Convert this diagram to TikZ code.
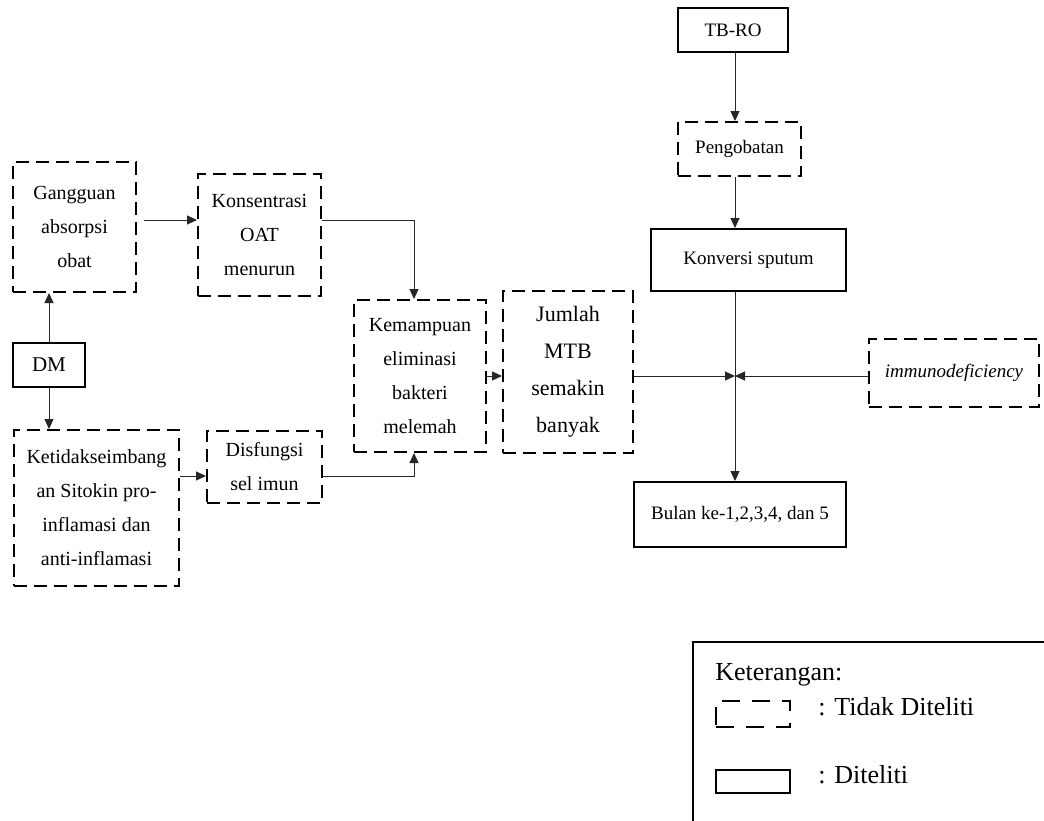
\documentclass[tikz,border=0pt]{standalone}
\usepackage{fontspec}
\setmainfont{Liberation Serif}
\usepackage{tikz}
\usetikzlibrary{arrows.meta}

\begin{document}
\begin{tikzpicture}[x=0.5pt, y=-0.5pt, >={Triangle[length=5pt,width=4.5pt]}]
\tikzstyle{diteliti}=[draw, line width=1pt, shape=rectangle, inner sep=0pt, align=center, font=\fontsize{9.5}{12}\selectfont]
\tikzstyle{tidak}=[diteliti, dash pattern=on 6.5pt off 3.5pt]
\tikzstyle{multi}=[font=\fontsize{10}{17}\selectfont]
\tikzstyle{panah}=[->, line width=0.5pt, black!85]
\tikzstyle{ket}=[anchor=base west, inner sep=0pt, font=\fontsize{13}{15}\selectfont]
\useasboundingbox (0,0) rectangle (1044,820);

\node[tidak, multi, minimum width=61.5pt, minimum height=65pt] (0) at (74.5,227) {Gangguan\\absorpsi\\obat};
\node[tidak, multi, minimum width=61.5pt, minimum height=61pt] (1) at (259.5,235) {Konsentrasi\\OAT\\menurun};
\node[diteliti, font=\fontsize{10.5}{12}\selectfont, minimum width=36pt, minimum height=22pt] (2) at (49,365) {DM};
\node[tidak, multi, minimum width=82.5pt, minimum height=78pt] (3) at (96.5,508) {Ketidakseimbang\\an Sitokin pro-\\inflamasi dan\\anti-inflamasi};
\node[tidak, multi, minimum width=57.5pt, minimum height=36pt] (4) at (264.5,467) {Disfungsi\\sel imun};
\node[tidak, multi, minimum width=66pt, minimum height=76pt] (5) at (420,376) {Kemampuan\\eliminasi\\bakteri\\melemah};
\node[tidak, font=\fontsize{11}{18.5}\selectfont, minimum width=65pt, minimum height=81pt] (6) at (568,372) {Jumlah\\MTB\\semakin\\banyak};
\node[diteliti, minimum width=55pt, minimum height=22pt] (7) at (733,30) {TB-RO};
\node[tidak, minimum width=61.5pt, minimum height=27pt] (8) at (739.5,149) {Pengobatan};
\node[diteliti, minimum width=97.5pt, minimum height=31pt] (9) at (748.5,260) {Konversi sputum};
\node[tidak, minimum width=85pt, minimum height=34pt] (10) at (954,373) {\textit{immunodeficiency}};
\node[diteliti, minimum width=106pt, minimum height=32.5pt] (11) at (740,514.5) {Bulan ke-1,2,3,4, dan 5};
\coordinate (12) at (735,376);

\draw[panah] (7.south -| 12) -- (8.north -| 12);
\draw[panah] (8.south -| 12) -- (9.north -| 12);
\draw[panah] (9.south -| 12) -- (11.north -| 12);
\draw[panah] (6.east |- 12) -- (12);
\draw[panah] (10.west |- 12) -- (12);
\draw[panah] (5.east |- 12) -- (6.west |- 12);
\coordinate (13) at ([shift={(7,-7)}]0.east);
\draw[panah] (13) -- (13 -| 1.west);
\draw[panah] ([shift={(0,-15)}]1.east) -| ([xshift=-3pt]5.north);
\draw[panah] (2.north) -- (2.north |- 0.south);
\draw[panah] (2.south) -- (2.south |- 3.north);
\coordinate (14) at ([shift={(0,9)}]4.west);
\draw[panah] (14 -| 3.east) -- (14);
\draw[panah] (14 -| 4.east) -| ([xshift=-3pt]5.south);

\draw[line width=1pt] (693,642) rectangle (1060,840);
\node[ket] (15) at (715,680) {Keterangan:};
\node[draw, line width=1pt, dash pattern=on 9pt off 6pt, minimum width=37pt, minimum height=13pt] (16) at (753,714) {};
\node[ket] (17) at (818,715) {: Tidak Diteliti};
\node[draw, line width=1pt, minimum width=37pt, minimum height=11.5pt] (18) at (753,781.5) {};
\node[ket] (19) at (818,783) {: Diteliti};
\end{tikzpicture}
\end{document}
